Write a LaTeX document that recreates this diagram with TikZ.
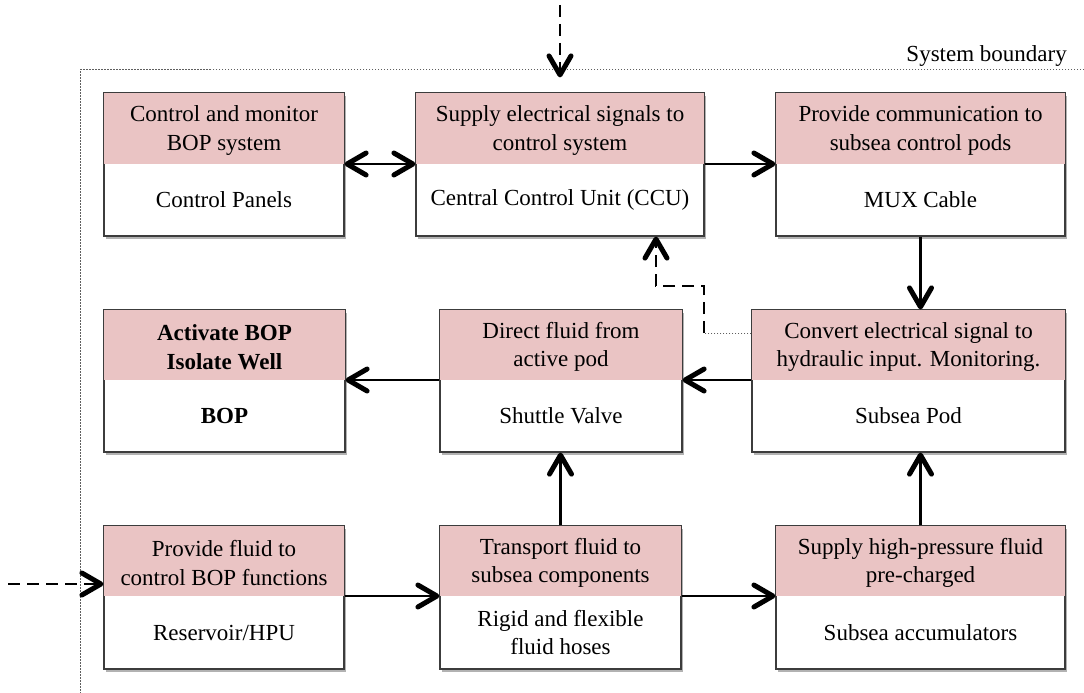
\documentclass[tikz,border=0pt]{standalone}
\usepackage{fontspec}
\setmainfont{Liberation Serif}
\usetikzlibrary{arrows.meta,shadows,calc}

\definecolor{blockpink}{RGB}{234,196,196}
\definecolor{blockline}{RGB}{60,60,60}
\definecolor{edgegray}{RGB}{95,95,95}

\tikzset{
  barb/.tip={Straight Barb[length=19pt,width=22pt,line width=5pt 0,round]},
  blk/.style={draw=blockline, line width=1.2pt, fill=white, inner sep=0pt,
    drop shadow={shadow xshift=2pt, shadow yshift=-3pt, opacity=0.3, fill=black}},
  lbl/.style={font=\fontsize{23}{28.5}\selectfont, align=center, inner sep=0pt},
  flow/.style={line width=2.2pt, -barb},
  flowboth/.style={line width=2.2pt, barb-barb},
  dflow/.style={line width=2.8pt, dash pattern=on 12pt off 7pt, -barb},
  boundary/.style={line width=1pt, draw=edgegray, dash pattern=on 1.5pt off 1.5pt},
}

% #1 name, #2 left, #3 top, #4 right, #5 bottom, #6 split, #7 function, #8 component
\newcommand\funcblock[8]{%
  \node[blk, minimum width={(#4-#2)*1pt}, minimum height={(#5-#3)*1pt}]
    (#1) at ({(#2+#4)/2},{(#3+#5)/2}) {};
  \fill[blockpink] (#2,#3) rectangle (#4,#6);
  \draw[blockline, line width=1.2pt] (#1.north west) rectangle (#1.south east);
  \coordinate (#1-s) at (#2,#6);
  \node[lbl] (#1-top) at ({(#2+#4)/2},{(#3+#6)/2+2}) {#7};
  \node[lbl] (#1-bot) at ({(#2+#4)/2},{(#6+#5)/2}) {#8};
}

\begin{document}
\begin{tikzpicture}[x=1pt, y=-1pt]
\useasboundingbox (0,0) rectangle (1084,693);

% system boundary
\draw[boundary] (1084,69.5) -- (80.7,69.5) -- (80.7,693);
\node[lbl, anchor=base east] (sysb) at (1067,62) {System boundary};

% function blocks
\funcblock{cp}{104}{93}{344}{236}{164}{Control and monitor\\BOP system}{Control Panels}
\funcblock{ccu}{416}{93}{704}{236}{164}{Supply electrical signals to\\control system}{Central Control Unit (CCU)}
\funcblock{mux}{776}{93}{1065}{236}{164}{Provide communication to\\subsea control pods}{MUX Cable}
\funcblock{bop}{104}{310}{345}{452}{380}{\bfseries Activate BOP\\\bfseries Isolate Well}{\bfseries BOP}
\funcblock{sv}{440}{310}{682}{452}{380}{Direct fluid from\\active pod}{Shuttle Valve}
\funcblock{pod}{752}{310}{1065}{452}{380}{Convert electrical signal to\\hydraulic input. Monitoring.}{Subsea Pod}
\funcblock{hpu}{104}{526}{344}{669}{596}{Provide fluid to\\control BOP functions}{Reservoir/HPU}
\funcblock{hose}{440}{526}{681}{669}{596}{Transport fluid to\\subsea components}{Rigid and flexible\\fluid hoses}
\funcblock{acc}{776}{526}{1065}{669}{596}{Supply high-pressure fluid\\pre-charged}{Subsea accumulators}

% solid connectors
\draw[flowboth] (cp.east |- cp-s) -- (ccu.west |- cp-s);
\draw[flow] (ccu.east |- ccu-s) -- (mux.west |- ccu-s);
\draw[flow] (mux.south) -- (pod.north -| mux.south);
\draw[flow] (pod.west |- pod-s) -- (sv.east |- pod-s);
\draw[flow] (sv.west |- sv-s) -- (bop.east |- sv-s);
\draw[flow] (hpu.east |- hpu-s) -- (hose.west |- hpu-s);
\draw[flow] (hose.east |- hose-s) -- (acc.west |- hose-s);
\draw[flow] (hose.north) -- (sv.south -| hose.north);
\draw[flow] (acc.north) -- (pod.south -| acc.north);

% external inputs
\coordinate (srcTop) at (560,5);
\draw[dflow] (srcTop) -- ([yshift=15pt]ccu.north);
\coordinate (srcLeft) at (8,584);
\draw[dflow] (srcLeft) -- (hpu.west |- srcLeft);

% monitoring feedback from the pod to the CCU
\coordinate (fbA) at (704,333);
\coordinate (fbB) at (656,286);
\draw[line width=0.9pt, draw=edgegray, dash pattern=on 1.5pt off 1.5pt] (pod.west |- fbA) -- (fbA);
\draw[dflow] (fbA) |- (fbB) -- (ccu.south -| fbB);
\end{tikzpicture}
\end{document}
